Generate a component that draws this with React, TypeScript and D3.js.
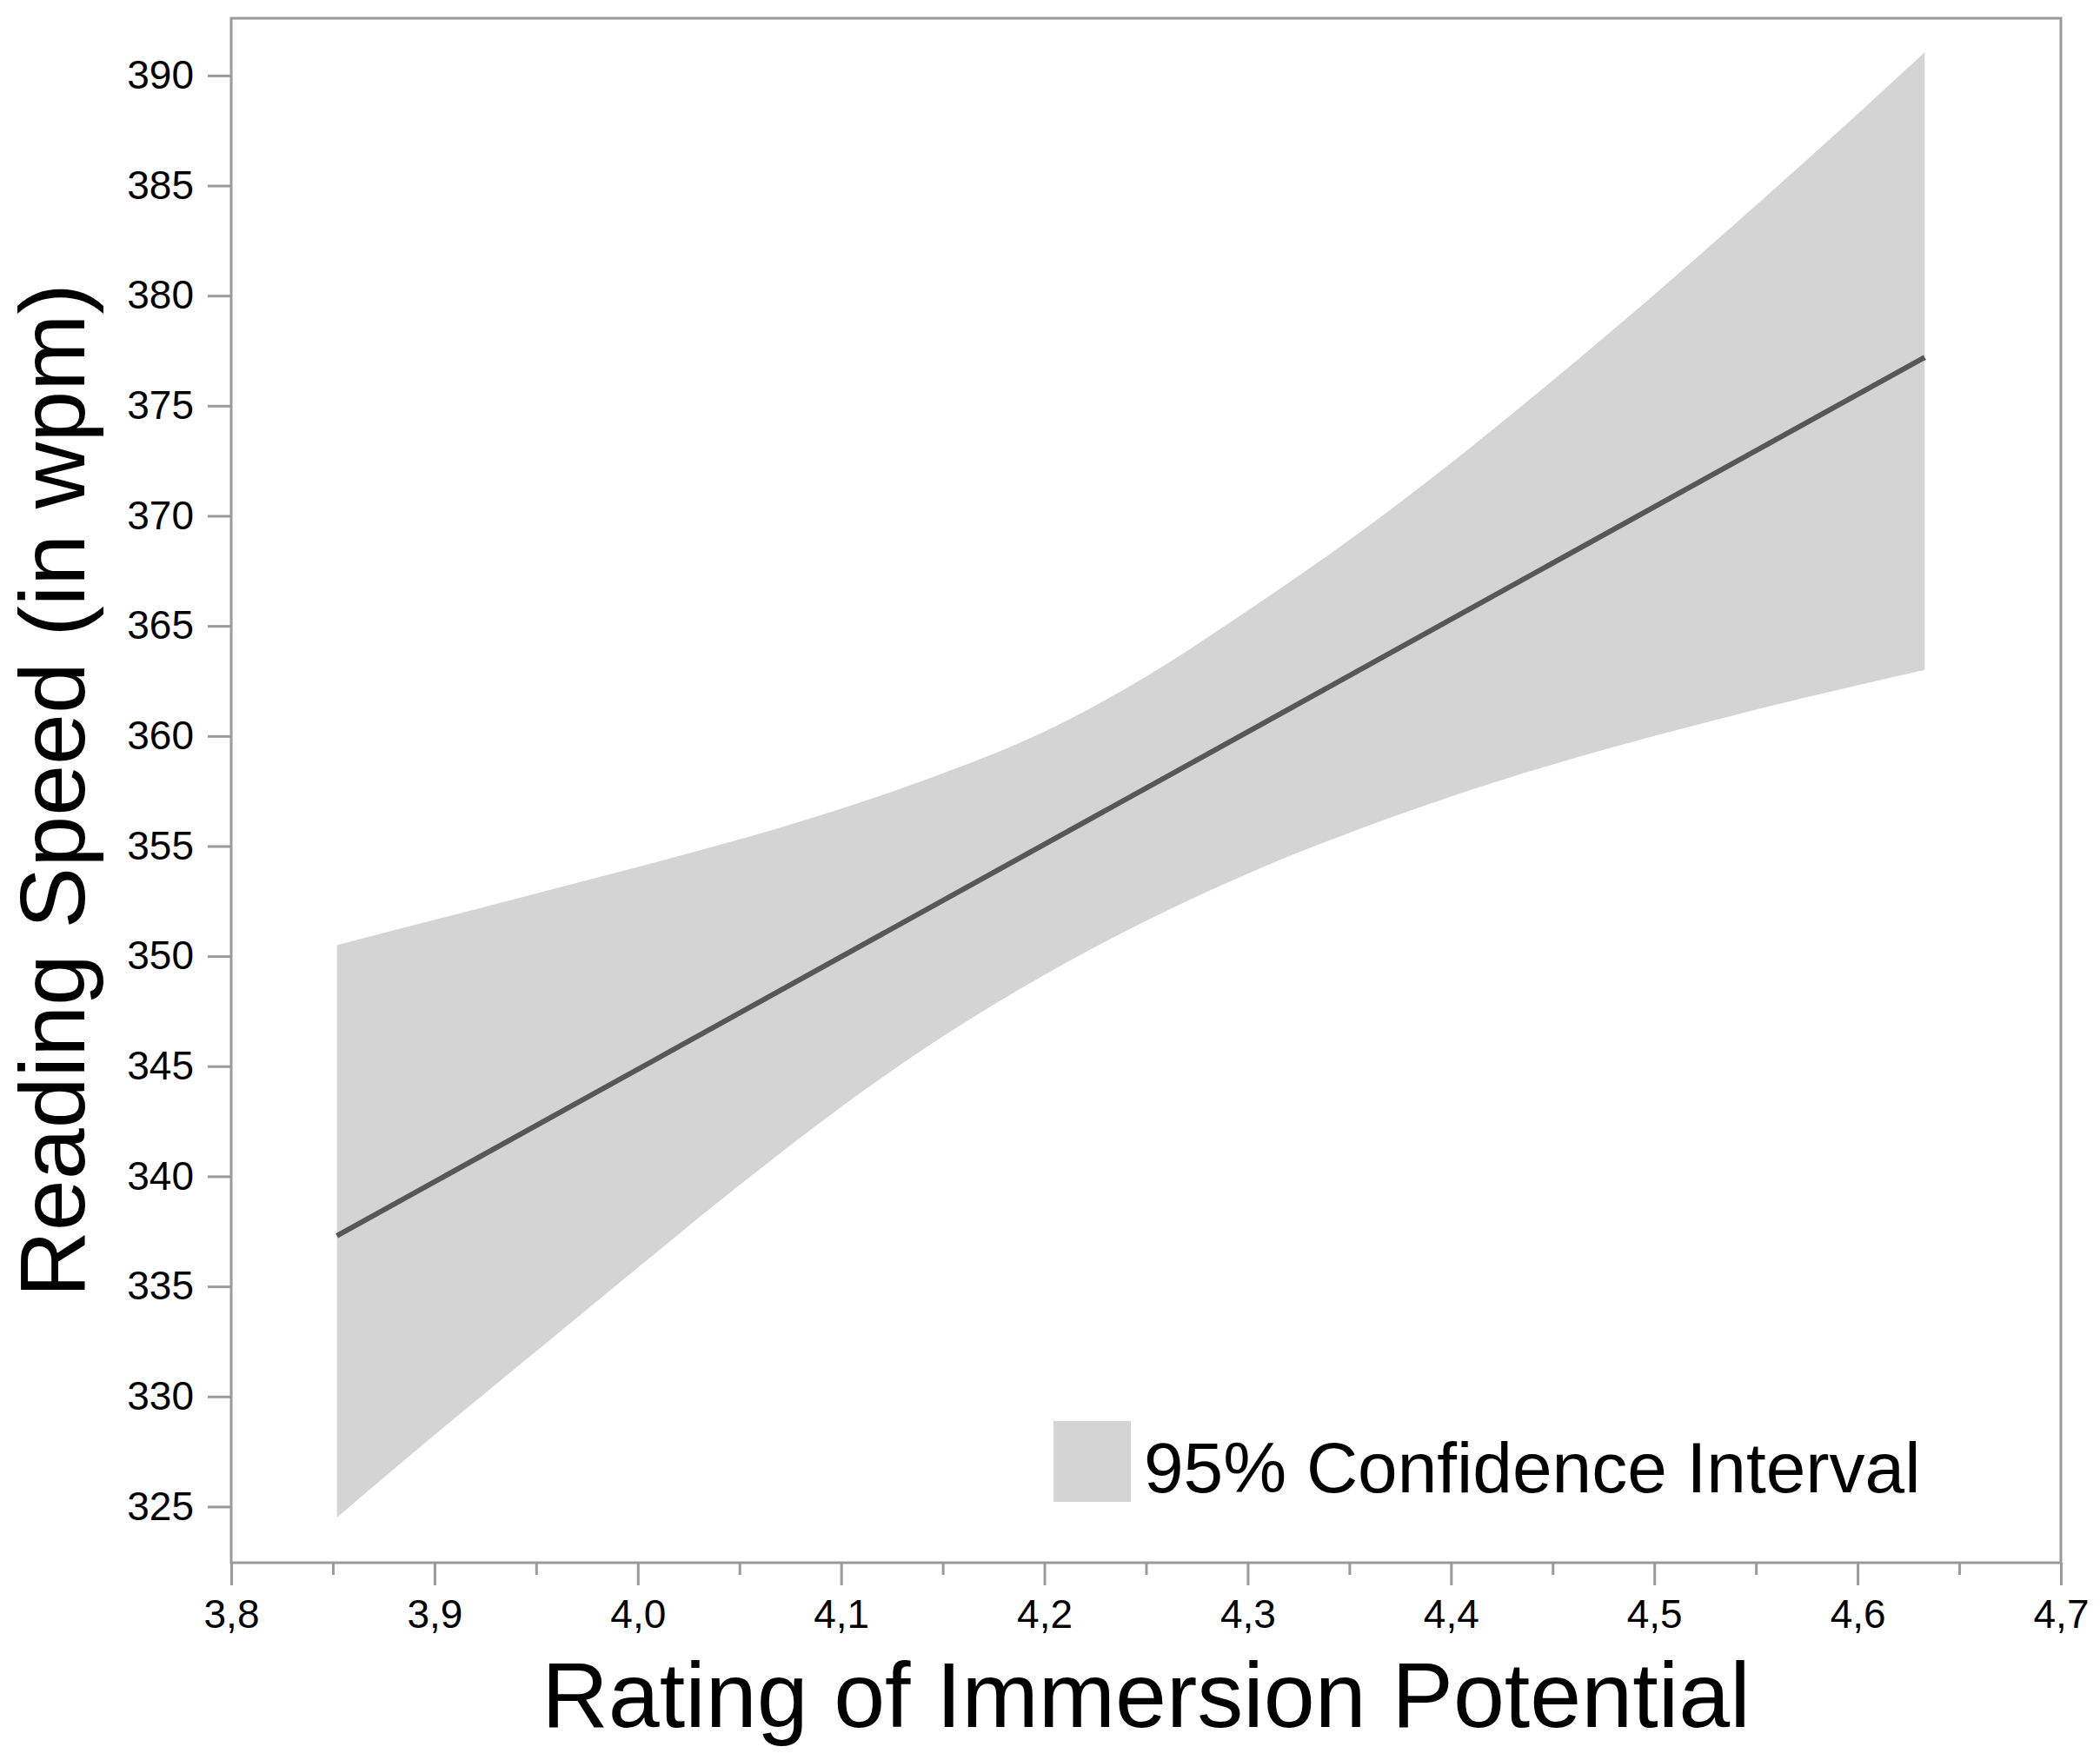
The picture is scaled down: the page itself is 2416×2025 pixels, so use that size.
import { useEffect, useRef } from "react";
import * as d3 from "d3";

// Confidence band (x = rating, values in wpm)
const ciX = [3.852, 3.9, 3.95, 4.0, 4.05, 4.1, 4.15, 4.2, 4.25, 4.3, 4.35, 4.4, 4.45, 4.5, 4.55, 4.6, 4.633];
const ciUpper = [350.5, 351.65, 352.85, 354.05, 355.3, 356.7, 358.3, 360.2, 362.7, 365.7, 368.9, 372.4, 376.15, 380.05, 384.1, 388.25, 391.05];
const ciLower = [324.5, 328.25, 332.05, 335.85, 339.6, 343.15, 346.35, 349.15, 351.6, 353.75, 355.6, 357.25, 358.7, 360.0, 361.2, 362.3, 363.0];

// Fitted regression line end points
const fitX = [3.852, 4.633];
const fitY = [337.3, 377.2];

// Axis ticks
const xTicks = [3.8, 3.9, 4.0, 4.1, 4.2, 4.3, 4.4, 4.5, 4.6, 4.7];
const xTickLabels = ["3,8", "3,9", "4,0", "4,1", "4,2", "4,3", "4,4", "4,5", "4,6", "4,7"];
const xMinorTicks = [3.85, 3.95, 4.05, 4.15, 4.25, 4.35, 4.45, 4.55, 4.65];
const yTicks = [325, 330, 335, 340, 345, 350, 355, 360, 365, 370, 375, 380, 385, 390];

const xTitle = "Rating of Immersion Potential";
const yTitle = "Reading Speed (in wpm)";
const legendLabel = "95% Confidence Interval";

const W = 2416;
const H = 2025;
const FONT = "'Liberation Sans', Arial, Helvetica, sans-serif";

export default function App() {
  const svgRef = useRef<SVGSVGElement>(null);

  useEffect(() => {
    document.body.style.margin = "0";
    if (!svgRef.current) return;

    const svg = d3.select(svgRef.current);
    svg.selectAll("*").remove();

    const margin = { top: 21, right: 45, bottom: 227, left: 266 };
    const width = W - margin.left - margin.right;
    const height = H - margin.top - margin.bottom;

    const x = d3.scaleLinear().domain([3.8, 4.7]).range([0, width]);
    const y = d3.scaleLinear().domain([322.45, 392.6]).range([height, 0]);

    const g = svg
      .append("g")
      .attr("transform", `translate(${margin.left},${margin.top})`);

    // Confidence band
    const band = ciX.map((v, i) => ({ x: v, lo: ciLower[i], hi: ciUpper[i] }));
    const area = d3
      .area<{ x: number; lo: number; hi: number }>()
      .x((d) => x(d.x))
      .y0((d) => y(d.lo))
      .y1((d) => y(d.hi))
      .curve(d3.curveMonotoneX);

    g.append("path").datum(band).attr("fill", "#d4d4d4").attr("d", area);

    // Fit line
    const fit = fitX.map((v, i) => ({ x: v, y: fitY[i] }));
    const line = d3
      .line<{ x: number; y: number }>()
      .x((d) => x(d.x))
      .y((d) => y(d.y));

    g.append("path")
      .datum(fit)
      .attr("fill", "none")
      .attr("stroke", "#575757")
      .attr("stroke-width", 6)
      .attr("d", line);

    // X axis (major + minor ticks)
    const xAxis = g
      .append("g")
      .attr("transform", `translate(0,${height})`)
      .call(
        d3
          .axisBottom(x)
          .tickValues(xTicks)
          .tickSize(26)
          .tickPadding(16)
          .tickFormat((_, i) => xTickLabels[i])
      );
    xAxis.select(".domain").remove();
    xAxis.selectAll("line").attr("stroke", "#9a9a9a").attr("stroke-width", 3);
    xAxis
      .selectAll("text")
      .attr("fill", "#000")
      .style("font-family", FONT)
      .style("font-size", "46px");

    const xMinor = g
      .append("g")
      .attr("transform", `translate(0,${height})`)
      .call(d3.axisBottom(x).tickValues(xMinorTicks).tickSize(14).tickFormat(() => ""));
    xMinor.select(".domain").remove();
    xMinor.selectAll("line").attr("stroke", "#9a9a9a").attr("stroke-width", 3);

    // Y axis
    const yAxis = g
      .append("g")
      .call(d3.axisLeft(y).tickValues(yTicks).tickSize(27).tickPadding(16));
    yAxis.select(".domain").remove();
    yAxis.selectAll("line").attr("stroke", "#9a9a9a").attr("stroke-width", 3);
    yAxis
      .selectAll("text")
      .attr("fill", "#000")
      .style("font-family", FONT)
      .style("font-size", "46px");

    // Frame
    g.append("rect")
      .attr("x", 0)
      .attr("y", 0)
      .attr("width", width)
      .attr("height", height)
      .attr("fill", "none")
      .attr("stroke", "#9a9a9a")
      .attr("stroke-width", 3);

    // Axis titles
    svg
      .append("text")
      .attr("x", margin.left + width / 2)
      .attr("y", 1987)
      .attr("text-anchor", "middle")
      .style("font-family", FONT)
      .style("font-size", "106px")
      .attr("fill", "#000")
      .text(xTitle);

    svg
      .append("text")
      .attr("transform", `translate(97,${margin.top + height / 2}) rotate(-90)`)
      .attr("text-anchor", "middle")
      .style("font-family", FONT)
      .style("font-size", "106px")
      .attr("fill", "#000")
      .text(yTitle);

    // Legend
    svg
      .append("rect")
      .attr("x", 1212)
      .attr("y", 1635)
      .attr("width", 89)
      .attr("height", 93)
      .attr("fill", "#d4d4d4");

    svg
      .append("text")
      .attr("x", 1316)
      .attr("y", 1717)
      .style("font-family", FONT)
      .style("font-size", "82px")
      .attr("fill", "#000")
      .text(legendLabel);
  }, []);

  return <svg ref={svgRef} width={W} height={H} style={{ display: "block", background: "#fff" }} />;
}
